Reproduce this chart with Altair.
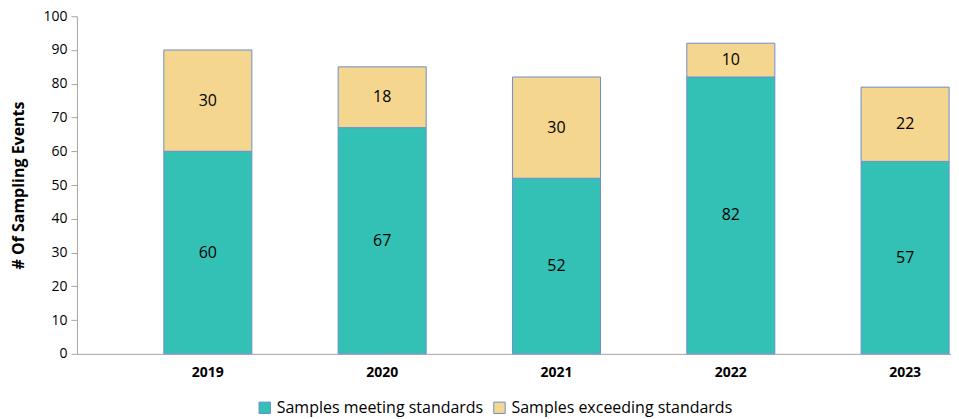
import altair as alt
import pandas as pd

years = ["2019", "2020", "2021", "2022", "2023"]
meeting = [60, 67, 52, 82, 57]
exceeding = [30, 18, 30, 10, 22]
series = ["Samples meeting standards", "Samples exceeding standards"]
colors = ["#33C1B5", "#F5D68F"]
yticks = [0, 10, 20, 30, 40, 50, 60, 70, 80, 90, 100]

rows = []
for i, y in enumerate(years):
    rows.append({"year": y, "series": series[0], "order": 0, "value": meeting[i]})
    rows.append({"year": y, "series": series[1], "order": 1, "value": exceeding[i]})
df = pd.DataFrame(rows)

FONT = "Open Sans"

xscale = alt.Scale(paddingInner=0.495, paddingOuter=0.2546, align=0.979)
yscale = alt.Scale(domain=[0, 100])

x_axis = alt.Axis(labelAngle=0, labelFontWeight="bold", ticks=False, labelPadding=12,
                  labelFont=FONT, labelFontSize=14, labelColor="#000000",
                  domainColor="#A6A6A6")
y_axis = alt.Axis(values=yticks, tickCount=11, grid=False, labelOverlap=False,
                  labelFont=FONT, labelFontSize=14, labelColor="#000000",
                  tickSize=6, tickColor="#A6A6A6", domainColor="#A6A6A6",
                  labelPadding=4,
                  titleFont=FONT, titleFontSize=16, titleFontWeight="bold",
                  titleColor="#000000",
                  titleX=-58, titleY=169, titleAngle=-90,
                  titleAlign="center", titleBaseline="middle")
YTITLE = "# Of Sampling Events"

base = alt.Chart(df)

bars = base.mark_bar(stroke="#6A8FD0", strokeWidth=1).encode(
    x=alt.X("year:N", scale=xscale, title=None, axis=x_axis),
    y=alt.Y("value:Q", stack="zero", scale=yscale, title=YTITLE, axis=y_axis),
    color=alt.Color("series:N", scale=alt.Scale(domain=series, range=colors),
                    sort=series,
                    legend=alt.Legend(title=None, orient="none", direction="horizontal",
                                      legendX=180, legendY=384,
                                      symbolType="square", symbolSize=130,
                                      symbolStrokeColor="#6A8FD0", symbolStrokeWidth=1,
                                      labelFont=FONT, labelFontSize=16, labelLimit=0,
                                      labelColor="#000000", columnPadding=8,
                                      labelOffset=4)),
    order=alt.Order("order:Q"),
)

labels = base.transform_stack(
    stack="value", groupby=["year"], as_=["y0", "y1"],
    sort=[alt.SortField("order", order="ascending")],
).transform_calculate(
    mid="(datum.y0 + datum.y1) / 2"
).mark_text(font=FONT, fontSize=16, color="#000000", baseline="middle").encode(
    x=alt.X("year:N", scale=xscale, title=None, axis=x_axis),
    y=alt.Y("mid:Q", scale=yscale, title=YTITLE, axis=y_axis),
    text=alt.Text("value:Q"),
)

border = alt.Chart(pd.DataFrame({"v": [0]})).mark_rule(color="#D9D9D9", strokeWidth=1).encode(
    x=alt.value(-74), y=alt.value(-14), y2=alt.value(410)
)

chart = alt.layer(bars, labels, border).properties(
    width=875, height=338,
    background="#FFFFFF",
    autosize=alt.AutoSizeParams(type="none"),
    padding={"left": 69, "top": 8, "right": 0, "bottom": 65},
).configure_view(stroke=None)

chart.save("out.html", embed_options={"renderer": "svg", "actions": False})
